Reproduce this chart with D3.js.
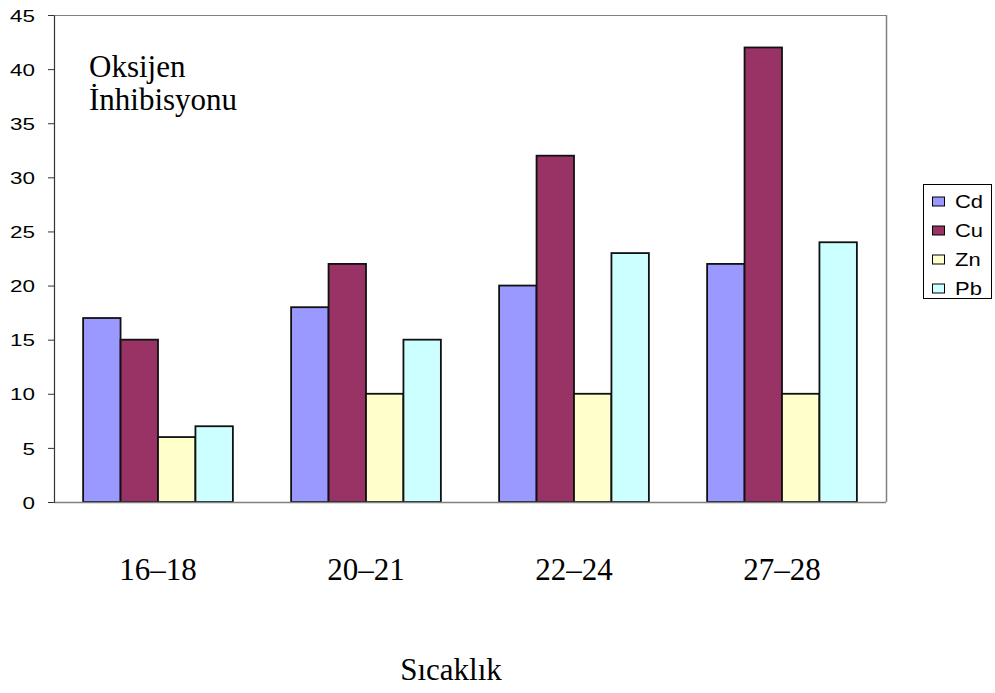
<!DOCTYPE html>
<html><head><meta charset="utf-8">
<script src="https://cdn.jsdelivr.net/npm/d3@7/dist/d3.min.js"></script>
<style>body{margin:0;background:#fff}</style>
</head><body>
<script>
const categories = ["16–18","20–21","22–24","27–28"];
const seriesNames = ["Cd","Cu","Zn","Pb"];
const Cd = [17,18,20,22];
const Cu = [15,22,32,42];
const Zn = [6,10,10,10];
const Pb = [7,15,23,24];
const yTicks = [0,5,10,15,20,25,30,35,40,45];
const colors = ["#9999FF","#993366","#FFFFCC","#CCFFFF"];
const seriesValues = [Cd,Cu,Zn,Pb];

const W=995,H=693;
const m={l:54,r:886,t:15,b:502};
const svg=d3.select("body").append("svg").attr("width",W).attr("height",H);
const serif="'Liberation Serif','Times New Roman',serif";
const sans="'Liberation Sans',Arial,sans-serif";

const x=d3.scaleBand().domain(categories).range([m.l,m.r]).paddingInner(0).paddingOuter(0);
const y=d3.scaleLinear().domain([0,45]).range([m.b,m.t]);
const groupW=x.bandwidth();
const barsW=groupW*0.72;
const xs=d3.scaleBand().domain(seriesNames).range([0,barsW]);

// frame
svg.append("line").attr("x1",m.l).attr("x2",m.r).attr("y1",m.t+0.5).attr("y2",m.t+0.5).attr("stroke","#808080").attr("stroke-width",1);
svg.append("line").attr("x1",m.r+0.5).attr("x2",m.r+0.5).attr("y1",m.t).attr("y2",m.b).attr("stroke","#808080").attr("stroke-width",1.5);

// bars
categories.forEach((c,i)=>{
  const g=svg.append("g").attr("transform",`translate(${x(c)+(groupW-barsW)/2},0)`);
  seriesNames.forEach((s,j)=>{
    const v=seriesValues[j][i];
    g.append("rect").attr("x",xs(s)).attr("y",y(v)).attr("width",xs.bandwidth()).attr("height",y(0)-y(v))
      .attr("fill",colors[j]).attr("stroke","#111").attr("stroke-width",1.8);
  });
});

// bottom axis line
svg.append("line").attr("x1",m.l).attr("x2",m.r).attr("y1",m.b+0.5).attr("y2",m.b+0.5).attr("stroke","#808080").attr("stroke-width",1.5);

// y axis
const ya=svg.append("g").attr("transform",`translate(${m.l},0)`)
  .call(d3.axisLeft(y).tickValues(yTicks).tickSize(6).tickSizeOuter(0));
ya.select(".domain").attr("stroke","#333").attr("stroke-width",1.2);
ya.selectAll(".tick line").attr("stroke","#333");
ya.selectAll("text").attr("x",0).attr("dy","0.36em")
  .attr("transform","translate(-19,0) scale(1.32,1)")
  .attr("font-family",sans).attr("font-size",17).attr("fill","#000");

// category labels
svg.append("g").selectAll("text").data(categories).join("text")
  .attr("x",d=>x(d)+groupW/2).attr("y",580).attr("text-anchor","middle")
  .attr("font-family",serif).attr("font-size",31).text(d=>d);

// x title
svg.append("text").attr("x",451).attr("y",680).attr("text-anchor","middle")
  .attr("font-family",serif).attr("font-size",31).text("Sıcaklık");

// chart annotation
const t=svg.append("text").attr("font-family",serif).attr("font-size",31);
t.append("tspan").attr("x",89).attr("y",77).text("Oksijen");
t.append("tspan").attr("x",89).attr("y",110).text("İnhibisyonu");

// legend
const lg=svg.append("g").attr("transform","translate(923,184)");
lg.append("rect").attr("x",0.5).attr("y",0.5).attr("width",68).attr("height",114).attr("fill","#fff").attr("stroke","#000").attr("stroke-width",1);
seriesNames.forEach((s,j)=>{
  const cy=17.5+j*29;
  lg.append("rect").attr("x",9.5).attr("y",cy-4.5).attr("width",12).attr("height",9).attr("fill",colors[j]).attr("stroke","#000").attr("stroke-width",1);
  lg.append("text").attr("transform",`translate(32,${cy+6.5}) scale(1.22,1)`).attr("font-family",sans).attr("font-size",18).text(s);
});
</script>
</body></html>
